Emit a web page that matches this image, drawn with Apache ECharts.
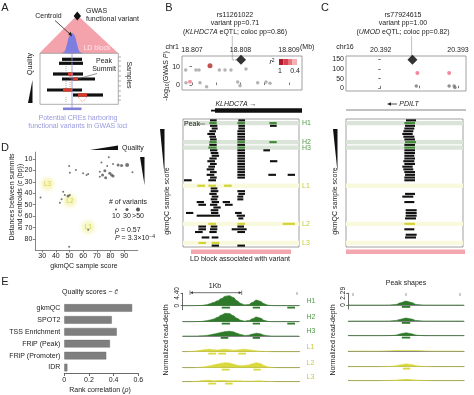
<!DOCTYPE html>
<html><head><meta charset="utf-8">
<script src="https://cdn.jsdelivr.net/npm/echarts@6/dist/echarts.min.js"></script>
<style>html,body{margin:0;padding:0;background:#fff}#c{width:474px;height:395px}</style>
</head><body><div id="c"></div>
<script>
// ================= DATA =================
// Panel B – GWAS (position in kb offset from chr1:18.807 Mb)
const bAxisKb = [0, 1, 2];
const bAxisLabels = ['18.807', '18.808', '18.809'];
const bMinorKb = [0, 0.5, 1, 1.5, 2];
const bLogPTicks = [0, 10];
const gwasBKb    = [1.01, 0.371, -0.13, 0.082, 0.144, 0.564, 0.68, 0.804, 1.113, -0.041, -0.124, 0.165, 0.302, 0.942, 0.99, 1.354, 1.526, 1.608];
const gwasBLogP  = [13.7, 10.5, 8.2, 8.2, 8.2, 8.2, 8.2, 8.2, 8.7, 1.8, 1.2, 1.2, -0.9, 1.6, -0.4, 1.2, 1.6, 1.0];
const gwasBGroup = ['lead','high','low','low','low','low','low','low','low','mid','low','low','low','low','low','low','low','low'];

// Panel C – GWAS (kb offset from chr16:20.392 Mb)
const cAxisKb = [0, 1];
const cAxisLabels = ['20.392', '20.393'];
const cMinorKb = [0, 0.5, 1];
const cLogPTicks = [0, 50, 100, 150];
const gwasCKb    = [0.41, 0.474, 0.885, 0.46, 0.885, 0.95, 0.96];
const gwasCLogP  = [147, 79, 79, 12, 12, 12, 4];
const gwasCGroup = ['lead','mid','mid','low','low','low','low'];

// Highlighted samples (row index, ordered by gkmQC score)
const hlRows  = [1, 8, 10, 24, 38, 45];
const hlNames = ['H1', 'H2', 'H3', 'L1', 'L2', 'L3'];

// Peaks per sample: [row, start kb, end kb]
const peaksB = [
 [0,0.371,0.509],[0,0.955,1.093],
 [1,0.357,0.509],[1,0.935,1.093],[1,1.594,1.746],
 [2,0.371,0.522],[2,0.955,1.093],[2,1.608,1.746],
 [3,0.405,0.529],[3,0.955,1.093],
 [4,0.357,0.495],[4,0.935,1.093],
 [5,0.316,0.474],[5,0.935,1.093],
 [6,0.357,0.495],[6,0.935,1.093],
 [7,0.371,0.509],[7,0.935,1.093],
 [8,0.357,0.509],[8,0.935,1.093],[8,1.594,1.746],
 [9,0.357,0.509],[9,0.935,1.093],
 [10,0.337,0.509],[10,0.935,1.093],
 [11,0.371,0.522],[11,0.935,1.093],[11,1.471,1.608],
 [12,0.385,0.543],[12,0.935,1.093],
 [13,0.405,0.557],[13,0.935,1.093],
 [14,0.357,0.509],[14,0.935,1.093],
 [15,0.316,0.474],[15,0.935,1.093],[15,1.608,1.759],
 [16,0.371,0.509],[16,0.935,1.093],
 [17,0.337,0.474],[17,0.935,1.093],
 [18,0.302,0.460],[18,0.935,1.093],
 [19,0.371,0.509],[19,0.935,1.093],
 [20,0.302,0.460],[20,0.935,1.093],[20,1.574,1.732],[20,1.972,2.124],
 [21,0.371,0.509],[21,0.935,1.093],
 [22,-0.165,-0.007],[22,0.337,0.495],
 [24,0.110,0.268],[24,0.337,0.495],[24,0.660,0.818],
 [25,0.385,0.522],
 [26,0.385,0.543],[26,0.935,1.093],
 [27,0.357,0.509],[27,0.955,1.093],
 [28,0.405,0.543],[28,0.935,1.058],
 [29,0.385,0.522],[29,0.935,1.058],
 [30,0.096,0.247],[30,0.405,0.557],[30,0.632,0.783],
 [31,0.131,0.289],[31,0.371,0.522],[31,0.680,0.838],
 [32,0.440,0.591],
 [33,0.385,0.543],
 [34,-0.124,0.027],[34,0.392,0.543],[34,0.887,1.024],
 [35,0.096,0.577],[35,0.921,1.093],
 [36,0.955,1.058],
 [38,0.337,0.495],[38,0.935,1.093],[38,1.869,2.124],
 [39,0.131,0.289],[39,0.385,0.522],[39,0.935,1.072],
 [40,0.131,0.289],[40,0.371,0.522],[40,0.818,1.127],
 [41,0.062,0.220],[41,0.357,0.509],[41,0.935,1.093],
 [43,0.199,0.357],[43,0.405,0.543],
 [45,0.131,0.289],[45,0.405,0.564],
 [46,0.405,0.557],[46,0.935,1.093]
];
const peaksC = [
 [0,0.333,0.462],[1,0.312,0.449],[2,0.321,0.449],[3,0.312,0.440],[4,0.299,0.427],
 [5,0.286,0.419],[6,0.299,0.440],[7,0.312,0.449],[8,0.321,0.462],[9,0.312,0.449],
 [10,0.312,0.449],[11,0.312,0.449],[12,0.312,0.449],[13,0.312,0.440],[14,0.312,0.449],
 [15,0.299,0.440],[16,0.312,0.449],[17,0.286,0.419],[18,0.299,0.427],[19,0.312,0.449],
 [20,0.321,0.449],[21,0.312,0.449],[22,0.312,0.449],
 [27,0.321,0.449],[28,0.286,0.427],[30,0.312,0.440],[33,0.329,0.470],[34,0.329,0.470],
 [35,0.329,0.470],[36,0.321,0.462],[38,0.312,0.449],[40,0.312,0.440],[42,0.329,0.470],[43,0.321,0.462]
];

// Panel D – gkmQC score vs summit–centroid distance
const dScore = [78.8,73.4,81.9,85.6,88.1,92.2,75.9,77.6,72.2,79.5,80.8,81.9,74.2,72.2,60.0,62.5,63.7,54.7,49.8,50.3,96.1,45.4,46.6,49.0,50.3,44.2,43.0,28.8,63.7,49.8,76.5];
const dDist  = [8.5,13.2,14.4,15.3,15.8,15.3,20.2,16.1,21.1,22.5,24.0,24.9,24.0,25.5,22.5,24.0,23.1,19.6,16.1,22.0,21.6,38.6,41.5,42.4,41.5,45.3,48.2,43.8,72.0,86.7,26.5];
const dNVar  = [1,1,1,2,2,3,2,1,1,2,2,2,2,1,1,1,1,1,1,1,1,1,1,2,1,1,1,1,1,1,2];
const dHlNames = ['L1', 'L2', 'L3'];
const dHlScore = [63.7, 50.3, 34.0];
const dHlDist  = [69.8, 46.5, 32.0];
const dTicksX = [30, 40, 50, 60, 70, 80, 90];
const dTicksY = [10, 20, 30, 40, 50, 60, 70, 80];
const dLegendLabels = ['10', '30', '>50'];

// Panel E – rank correlation of quality scores with c̄
const eMetrics = ['gkmQC', 'SPOT2', 'TSS Enrichment', 'FRiP (Peak)', 'FRiP (Promoter)', 'IDR'];
const eRho = [0.55, 0.385, 0.425, 0.37, 0.34, 0.025];
const eTicks = [0, 0.2, 0.4, 0.6];

// Panel E – read-depth tracks at KLHDC7A locus (kb)
const trackX  = [0,0.075,0.15,0.225,0.3,0.375,0.45,0.525,0.6,0.675,0.75,0.825,0.9,0.975,1.05,1.125,1.2,1.275,1.35,1.425,1.5,1.575,1.65,1.725,1.8,1.875,1.95,2.025,2.1,2.175,2.25];
const trackH1 = [0,0,0,0,0.05,0.1,0.3,0.7,1.2,1.8,2.6,3.4,3.6,3.0,1.8,0.8,0.3,0.4,1.2,2.0,1.6,0.7,0.2,0.05,0,0,0,0,0,0,0];
const trackH2 = [0,0,0,0,0.05,0.1,0.3,0.6,1.0,1.6,2.4,3.0,2.9,2.2,1.2,0.5,0.2,0.4,1.1,1.7,1.3,0.5,0.1,0,0,0,0,0,0,0,0];
const trackH3 = [0,0,0,0,0,0.05,0.2,0.4,0.7,1.0,1.3,1.6,1.7,1.5,1.0,0.5,0.2,0.3,0.7,1.0,0.8,0.3,0.1,0,0,0,0,0,0,0,0];
const trackL1 = [0,0,0.05,0.2,0.4,0.6,0.8,0.9,0.7,0.6,0.8,0.9,0.7,0.5,0.6,0.8,0.9,0.7,0.5,0.3,0.2,0.1,0.05,0,0,0,0,0,0,0,0];
const trackL2 = [0,0,0,0,0.1,0.2,0.4,0.7,1.0,1.3,1.6,1.8,1.7,1.3,0.9,0.7,0.8,1.0,1.4,1.8,1.5,0.8,0.3,0.1,0,0,0,0,0,0,0];
const trackL3 = [0,0,0,0.05,0.2,0.4,0.5,0.5,0.3,0.4,0.5,0.4,0.3,0.3,0.3,0.3,0.2,0.2,0.2,0.3,0.3,0.2,0.1,0.05,0,0,0,0,0,0,0];
const callsH1 = [[0.754,0.915],[1.354,1.495],[2.023,2.172]];
const callsH2 = [[0.754,0.915],[1.354,1.495],[2.023,2.172]];
const callsH3 = [[0.735,0.882],[1.354,1.495]];
const callsL1 = [[0.495,0.644],[0.689,0.838],[1.075,1.224]];
const callsL2 = [[0.754,0.909],[1.366,1.509]];
const callsL3 = [[0.495,0.644],[0.818,0.967]];
const trackMax = 4.40;

// Peak shapes (kb from summit)
const shapeX  = [-1.1,-1.0,-0.9,-0.8,-0.7,-0.6,-0.5,-0.4,-0.3,-0.2,-0.1,0,0.1,0.2,0.3,0.4,0.5,0.6,0.7,0.8,0.9,1.0,1.1];
const shapeH1 = [0,0,0,0,0,0,0,0,0.02,0.08,0.45,0.76,0.5,0.1,0.02,0,0,0,0,0,0,0,0];
const shapeH2 = [0,0,0,0,0,0,0,0,0.02,0.08,0.35,0.58,0.4,0.08,0.02,0,0,0,0,0,0,0,0];
const shapeH3 = [0,0,0,0,0,0,0,0,0.02,0.1,0.38,0.56,0.38,0.1,0.02,0,0,0,0,0,0,0,0];
const shapeL1 = [0,0,0,0,0,0,0,0.02,0.05,0.08,0.1,0.12,0.1,0.08,0.05,0.02,0,0,0,0,0,0,0];
const shapeL2 = [0,0,0,0,0,0,0,0.02,0.06,0.18,0.4,0.55,0.42,0.18,0.06,0.02,0,0,0,0,0,0,0];
const shapeL3 = [0,0,0,0,0,0,0,0.02,0.06,0.12,0.2,0.26,0.2,0.12,0.06,0.02,0,0,0,0,0,0,0];
const shapeCallsH = [[-0.08,0.08]];
const shapeCallsL2 = [[-0.06,0.08]];
const shapeMax = 2.29;

// ================= RENDER =================
const FF = '"Liberation Sans", Arial, sans-serif';
const GREEN = '#3f8a35', YELLOW = '#d2d235', GREEN_T = '#2f7a2a', YELLOW_T = '#d9d93c';
const LBL_G = '#4f9a45', LBL_Y = '#c9c93a';
const chart = echarts.init(document.getElementById('c'), null, {renderer: 'canvas'});
const grids = [], xAxes = [], yAxes = [], series = [];
function hidden(extra) {
  return Object.assign({type: 'value', axisLine: {show: false}, axisTick: {show: false}, axisLabel: {show: false}, splitLine: {show: false}}, extra || {});
}
function addGrid(g, xa, ya) {
  grids.push(Object.assign({containLabel: false, outerBoundsMode: 'none'}, g));
  const i = grids.length - 1;
  xAxes.push(Object.assign(hidden(), xa, {gridIndex: i}));
  yAxes.push(Object.assign(hidden(), ya, {gridIndex: i}));
  return i;
}
const lbl = (extra) => Object.assign({show: true, fontSize: 7, color: '#222', fontFamily: FF, margin: 2}, extra);
function pick(pos, val, grp, g) { const o = []; pos.forEach((p, i) => { if (grp[i] === g) o.push([p, val[i]]); }); return o; }
const rowClass = r => { const k = hlRows.indexOf(r); return k < 0 ? 0 : (k < 3 ? 1 : 2); };

// --- B GWAS scatter
const gB = addGrid({left: 182, top: 56, width: 120, height: 34, show: true, borderColor: '#888', borderWidth: 0.8},
  {min: -0.206, max: 2.268, position: 'top',
   axisTick: {show: true, customValues: bMinorKb, length: 2.5, lineStyle: {color: '#555', width: 0.8}},
   axisLabel: lbl({customValues: bAxisKb, formatter: v => bAxisLabels[bAxisKb.indexOf(v)]})},
  {min: -2.7, max: 15.8,
   axisTick: {show: true, customValues: bLogPTicks, length: 2.5, lineStyle: {color: '#555', width: 0.8}},
   axisLabel: lbl({customValues: bLogPTicks})});
series.push(
  {type: 'scatter', xAxisIndex: gB, yAxisIndex: gB, data: pick(gwasBKb, gwasBLogP, gwasBGroup, 'low'), symbolSize: 3.5, itemStyle: {color: '#a0a0a0'}, silent: true},
  {type: 'scatter', xAxisIndex: gB, yAxisIndex: gB, data: pick(gwasBKb, gwasBLogP, gwasBGroup, 'mid'), symbolSize: 4, itemStyle: {color: '#f07a8c'}, silent: true},
  {type: 'scatter', xAxisIndex: gB, yAxisIndex: gB, data: pick(gwasBKb, gwasBLogP, gwasBGroup, 'high'), symbolSize: 5, itemStyle: {color: '#b5261e'}, silent: true},
  {type: 'scatter', xAxisIndex: gB, yAxisIndex: gB, data: pick(gwasBKb, gwasBLogP, gwasBGroup, 'lead'), symbol: 'diamond', symbolSize: 10, itemStyle: {color: '#000'}, silent: true, z: 5}
);

// --- C GWAS scatter
const gC = addGrid({left: 346, top: 56, width: 120, height: 35, show: true, borderColor: '#888', borderWidth: 0.8},
  {min: -0.449, max: 1.103, position: 'top',
   axisTick: {show: true, customValues: cMinorKb, length: 2.5, lineStyle: {color: '#555', width: 0.8}},
   axisLabel: lbl({customValues: cAxisKb, formatter: v => cAxisLabels[cAxisKb.indexOf(v)]})},
  {min: -14, max: 167,
   axisTick: {show: true, customValues: cLogPTicks, length: 2.5, lineStyle: {color: '#555', width: 0.8}},
   axisLabel: lbl({customValues: cLogPTicks})});
series.push(
  {type: 'scatter', xAxisIndex: gC, yAxisIndex: gC, data: pick(gwasCKb, gwasCLogP, gwasCGroup, 'low'), symbolSize: 3.5, itemStyle: {color: '#777'}, silent: true},
  {type: 'scatter', xAxisIndex: gC, yAxisIndex: gC, data: pick(gwasCKb, gwasCLogP, gwasCGroup, 'mid'), symbolSize: 4, itemStyle: {color: '#f06a8a'}, silent: true},
  {type: 'scatter', xAxisIndex: gC, yAxisIndex: gC, data: pick(gwasCKb, gwasCLogP, gwasCGroup, 'lead'), symbol: 'diamond', symbolSize: 10, itemStyle: {color: '#000'}, silent: true, z: 5}
);

// --- peak panels
function peakPanel(left, width, xmin, xmax, peaks, withLabels) {
  const ya = {min: -0.5, max: 46.5, inverse: true, position: 'right'};
  if (withLabels) {
    ya.axisTick = {show: true, customValues: hlRows, length: 4, lineStyle: {color: '#b8c8a0', width: 0.8}};
    ya.axisLabel = lbl({customValues: hlRows, margin: 3,
      formatter: v => { const k = hlRows.indexOf(v); return (k < 3 ? '{g|' : '{y|') + hlNames[k] + '}'; },
      rich: {g: {color: LBL_G, fontSize: 7, fontFamily: FF}, y: {color: LBL_Y, fontSize: 7, fontFamily: FF}}});
  }
  const gi = addGrid({left: left, top: 119, width: width, height: 128, show: true, borderColor: '#888', borderWidth: 0.8},
    {min: xmin, max: xmax}, ya);
  series.push({type: 'custom', xAxisIndex: gi, yAxisIndex: gi, silent: true, z: 1,
    data: hlRows.map((r, k) => [xmin, r, k < 3 ? 1 : 2]), encode: {x: 0, y: 1},
    renderItem: (params, api) => {
      const cs = params.coordSys; const y = api.coord([xmin, api.value(1)])[1];
      return {type: 'rect', shape: {x: cs.x, y: y - 2.2, width: cs.width, height: 4.4},
        style: {fill: api.value(2) === 1 ? '#dbe4d8' : '#f9f9de'}};
    }});
  series.push({type: 'custom', xAxisIndex: gi, yAxisIndex: gi, silent: true, z: 2,
    data: peaks.map(p => [p[1], p[0], p[2], rowClass(p[0])]), encode: {x: [0, 2], y: 1},
    renderItem: (params, api) => {
      const a = api.coord([api.value(0), api.value(1)]); const b = api.coord([api.value(2), api.value(1)]);
      const c = api.value(3);
      return {type: 'rect', shape: {x: a[0], y: a[1] - 1.05, width: b[0] - a[0], height: 2.1},
        style: {fill: c === 1 ? GREEN : (c === 2 ? YELLOW : '#111')}};
    }});
  return gi;
}
peakPanel(183, 116, -0.186, 2.206, peaksB, true);
peakPanel(346, 117, -0.436, 1.064, peaksC, false);

// --- D scatter
const gD = addGrid({left: 35.3, top: 152.1, width: 102.5, height: 97.9},
  {min: 25, max: 100, position: 'bottom',
   axisLine: {show: true, onZero: false, lineStyle: {color: '#666', width: 0.8}},
   axisTick: {show: true, customValues: dTicksX, length: 2.5, lineStyle: {color: '#666', width: 0.8}},
   axisLabel: lbl({customValues: dTicksX, margin: 3})},
  {min: 4, max: 89.6, inverse: true, position: 'left',
   axisLine: {show: true, onZero: false, lineStyle: {color: '#666', width: 0.8}},
   axisTick: {show: true, customValues: dTicksY, length: 2.5, lineStyle: {color: '#666', width: 0.8}},
   axisLabel: lbl({customValues: dTicksY, margin: 3})});
series.push({type: 'scatter', xAxisIndex: gD, yAxisIndex: gD, silent: true, z: 1,
  data: dHlScore.map((s, i) => ({value: [s, dHlDist[i]], name: dHlNames[i]})),
  symbolSize: 12, itemStyle: {color: 'rgba(248,248,196,0.9)', shadowBlur: 5, shadowColor: 'rgba(240,240,170,1)'},
  label: {show: true, formatter: p => p.name, color: LBL_Y, fontSize: 6.5, fontFamily: FF, position: 'inside'}});
[1, 2, 3].forEach(k => {
  series.push({type: 'scatter', xAxisIndex: gD, yAxisIndex: gD, silent: true, z: 3,
    data: dScore.map((s, i) => [s, dDist[i], dNVar[i]]).filter(d => d[2] === k),
    symbolSize: [2, 3, 4][k - 1], itemStyle: {color: '#555'}});
});

// --- E bar chart
const gE = addGrid({left: 64.3, top: 302, width: 74, height: 71.5},
  {min: 0, max: 0.6, position: 'bottom',
   axisLine: {show: true, onZero: false, lineStyle: {color: '#444', width: 0.8}},
   axisTick: {show: true, customValues: eTicks, length: 2.5, lineStyle: {color: '#444', width: 0.8}},
   axisLabel: lbl({customValues: eTicks, margin: 3, formatter: v => v === 0 ? '0' : v.toFixed(1)})},
  {type: 'category', data: eMetrics, inverse: true, axisLabel: lbl({margin: 4})});
series.push({type: 'bar', xAxisIndex: gE, yAxisIndex: gE, data: eRho, barWidth: 7.6, silent: true,
  itemStyle: {color: '#7f7f7f', borderColor: '#666', borderWidth: 0.4}});

// --- read-depth tracks
const midBase = [305.7, 321.7, 336, 351.7, 367.7, 381.7];
const rightBase = [305, 321, 335.7, 351, 366.7, 380.7];
const midProfiles = [trackH1, trackH2, trackH3, trackL1, trackL2, trackL3];
const midCalls = [callsH1, callsH2, callsH3, callsL1, callsL2, callsL3];
const rightProfiles = [shapeH1, shapeH2, shapeH3, shapeL1, shapeL2, shapeL3];
const rightCalls = [shapeCallsH, shapeCallsH, shapeCallsH, [], shapeCallsL2, []];
function trackGrid(left, width, base, xmin, xmax, ymax, pxTop, showAxis, label) {
  const yPer = ymax / pxTop; const ymin = -4 * yPer;
  const ya = {min: ymin, max: ymax};
  if (showAxis) {
    ya.axisLine = {show: true, onZero: false, lineStyle: {color: '#444', width: 0.8}};
    ya.axisTick = {show: true, customValues: [0, ymax], length: 2, lineStyle: {color: '#444', width: 0.8}};
    ya.axisLabel = lbl({customValues: [0, ymax], rotate: 90, fontSize: 6.5, formatter: v => v === 0 ? '0' : label});
  }
  const gi = addGrid({left: left, top: base - pxTop, width: width, height: pxTop + 4},
    {min: xmin, max: xmax, axisLine: {show: true, onZero: true, lineStyle: {color: '#666', width: 0.8}}}, ya);
  return {gi: gi, yPer: yPer};
}
function addTrack(t, xs, prof, calls, isH) {
  const col = isH ? GREEN_T : YELLOW_T;
  series.push({type: 'line', xAxisIndex: t.gi, yAxisIndex: t.gi, data: xs.map((x, j) => [x, prof[j]]),
    smooth: 0.4, smoothMonotone: 'x', symbol: 'none', silent: true, z: 2,
    lineStyle: {width: 0.6, color: col}, areaStyle: {color: col, opacity: 1, origin: 0}});
  if (calls.length) {
    const y0 = -1.0 * t.yPer, y1 = -2.8 * t.yPer;
    series.push({type: 'custom', xAxisIndex: t.gi, yAxisIndex: t.gi, silent: true, z: 3,
      data: calls.map(c => [c[0], c[1], 0]), encode: {x: [0, 1], y: 2},
      renderItem: (params, api) => {
        const a = api.coord([api.value(0), y0]); const b = api.coord([api.value(1), y1]);
        return {type: 'rect', shape: {x: a[0], y: a[1], width: b[0] - a[0], height: b[1] - a[1]}, style: {fill: col}};
      }});
  }
}
for (let i = 0; i < 6; i++) {
  const tm = trackGrid(182.7, 116.6, midBase[i], 0, 2.255, trackMax, 12.3, i === 0, trackMax.toFixed(2));
  addTrack(tm, trackX, midProfiles[i], midCalls[i], i < 3);
  const tr = trackGrid(348.3, 115.7, rightBase[i], -1.1, 1.104, shapeMax, 11.7, i === 0, shapeMax.toFixed(2));
  addTrack(tr, shapeX, rightProfiles[i], rightCalls[i], i < 3);
}

// ================= ANNOTATIONS =================
function T(x, y, text, o) {
  o = o || {};
  const al = o.align || 'center', va = o.va || 'middle';
  const st = {text: text, fill: o.color || '#222', font: (o.italic ? 'italic ' : '') + (o.size || 7) + 'px ' + FF,
    align: al, verticalAlign: va, textAlign: al, textVerticalAlign: va};
  if (o.rich) st.rich = o.rich;
  return {type: 'text', x: x, y: y, rotation: o.rot || 0, silent: true, z: 100, style: st};
}
const R = (extra) => Object.assign({fontSize: 7, fontFamily: FF, fill: '#222', color: '#222'}, extra || {});
const richBase = {n: R(), i: R({fontStyle: 'italic'}), s: R({fontSize: 5, verticalAlign: 'bottom', padding: [3, 0, 0, 0]}), u: R({fontSize: 5, padding: [0, 0, 3, 0]})};
const L = (x1, y1, x2, y2, c, w, dash) => ({type: 'line', silent: true, z: 90, shape: {x1, y1, x2, y2}, style: {stroke: c || '#444', lineWidth: w || 0.8, lineDash: dash || null}});
const P = (pts, fill, z) => ({type: 'polygon', silent: true, z: z || 90, shape: {points: pts}, style: {fill: fill}});
const Rc = (x, y, w, h, fill, z) => ({type: 'rect', silent: true, z: z || 90, shape: {x, y, width: w, height: h}, style: {fill: fill}});
const G = [];
// panel letters
G.push(T(5, 8, 'A', {size: 11}), T(169, 8, 'B', {size: 11}), T(325, 8, 'C', {size: 11}), T(5, 148, 'D', {size: 11}), T(5, 282, 'E', {size: 11}));

// ---- Panel A schematic
G.push(P([[77.3, 15], [39.3, 53.3], [118.3, 53.3]], '#f4a3ac', 50));
G.push({type: 'polygon', silent: true, z: 51, shape: {points: [[61, 53.3], [64.5, 51.5], [67, 44], [69, 36.5], [72, 33], [75, 36.5], [77, 44], [79.5, 51.5], [83, 53.3]], smooth: 0.35}, style: {fill: '#7d7ee0'}});
G.push(T(97, 48.5, 'LD block', {color: '#fde6ea'}));
G.push(P([[77.3, 11.5], [81, 16], [77.3, 20.5], [73.6, 16]], '#111', 60));
G.push(T(86, 11.5, 'GWAS', {align: 'left'}), T(86, 19.5, 'functional variant', {align: 'left'}));
G.push(T(48.5, 16, 'Centroid'));
G.push(L(55, 20.5, 70.5, 34.5, '#222', 0.8), P([[72, 36.5], [68.2, 34.2], [70.8, 31.8]], '#222'));
G.push({type: 'rect', silent: true, z: 52, shape: {x: 40, y: 53.3, width: 78.3, height: 51}, style: {fill: 'none', stroke: '#999', lineWidth: 0.8}});
G.push(L(72, 53.3, 72, 108, '#8a8ae0', 0.8));
[[62, 59.3, 20], [59, 63.3, 24], [53, 74, 30], [62, 79, 33], [47, 90, 35], [73, 95, 30]].forEach(b => G.push(Rc(b[0], b[1] - 1.6, b[2], 3.2, '#111', 70)));
[[68, 74, 5], [73, 79, 5], [63, 90, 9], [78, 95, 9]].forEach(b => G.push(Rc(b[0], b[1] - 1.6, b[2], 3.2, '#d93a2a', 71)));
G.push(L(66, 66, 66, 71, '#888', 0.7, [1, 1]), L(66, 81, 66, 88, '#888', 0.7, [1, 1]), L(66, 97, 66, 102, '#888', 0.7, [1, 1]));
G.push(L(70, 76, 70, 88, '#e06050', 0.7, [1, 1]), {type: 'polyline', silent: true, z: 90, shape: {points: [[78, 97], [82.5, 102], [87, 97]]}, style: {stroke: '#e06050', lineWidth: 0.7, lineDash: [1, 1], fill: null}});
G.push(T(104, 61.5, 'Peak'), T(104, 69.5, 'Summit'), L(97, 73.5, 79, 78.5, '#444', 0.6));
G.push(T(30, 64, 'Quality', {rot: Math.PI / 2}), P([[32.5, 80], [32.5, 103], [28, 103]], '#111'));
G.push(T(128.5, 75, 'Samples', {rot: -Math.PI / 2}));
[57, 61, 66, 71, 76, 81, 86, 91, 96, 100].forEach(y => G.push(L(118.3, y, 121, y, '#777', 0.6)));
G.push(Rc(63, 107.5, 18.5, 2.6, '#8080d8', 70));
G.push(T(78, 118, 'Potential CREs harboring', {color: '#9a9ae0'}), T(78, 126, 'functional variants in GWAS loci', {color: '#9a9ae0'}));

// ---- Panel B annotations
G.push(T(235, 15, 'rs11261022'), T(235, 23.5, 'variant pp=0.71'));
G.push(T(235, 32, '{n|(}{i|KLHDC7A}{n| eQTL; coloc pp=0.86)}', {rich: richBase}));
G.push({type: 'polyline', silent: true, z: 90, shape: {points: [[232.3, 36.5], [232.3, 60], [237, 60]]}, style: {stroke: '#555', lineWidth: 0.7, lineDash: [1, 1], fill: null}});
G.push(T(179, 47.5, 'chr1', {align: 'right'}), T(300, 47.5, '(Mb)', {align: 'left'}));
G.push(T(166.5, 76, '{n|-log}{s|10}{n|(GWAS }{i|P}{n|)}', {rot: Math.PI / 2, rich: richBase}));
G.push(T(272, 62, '{i|r}{u|2}', {rich: richBase}));
['#b2182b', '#d6454f', '#e8787e', '#f3b1b4'].forEach((c, k) => G.push(Rc(279 + k * 4.5, 59, 4.5, 6, c, 95)));
G.push(T(280, 71, '1'), T(295, 71, '0.4'));
G.push(T(236, 104, '{i|KLHDC7A}{n| \u2192}', {rich: richBase}));
G.push(Rc(211, 109.7, 5, 1.8, '#111'), Rc(215, 108.3, 87, 4.4, '#111'));
G.push(T(192, 124, 'Peak'), L(199, 124, 205, 124, '#555', 0.7));
G.push(Rc(191, 249.5, 100, 4.5, '#f4a6ae'));
G.push(T(240, 259.5, 'LD block associated with variant'));
G.push(P([[160, 129], [164.5, 129], [164.5, 175]], '#111'));
G.push(T(167.5, 201, 'gkmQC sample score', {rot: Math.PI / 2}));

// ---- Panel C annotations
G.push(T(403, 15, 'rs77924615'), T(403, 23.5, 'variant pp=1.00'));
G.push(T(403, 32, '{n|(}{i|UMOD}{n| eQTL; coloc pp=0.82)}', {rich: richBase}));
G.push(L(411.7, 36.5, 411.7, 56, '#555', 0.7, [1, 1]));
G.push(T(345, 47.5, 'chr16'));
G.push(L(390, 104, 397, 104, '#222', 0.8), P([[387, 104], [391, 102.3], [391, 105.7]], '#222'));
G.push(T(409, 104, 'PDILT', {italic: true}));
G.push(L(346, 110, 466, 110, '#666', 0.8));
G.push(Rc(346, 249.5, 119, 4.5, '#f4a6ae'));
G.push(P([[333, 129], [337.5, 129], [337.5, 172]], '#111'));
G.push(T(335.5, 201, 'gkmQC sample score', {rot: Math.PI / 2}));

// ---- Panel D annotations
G.push(T(12.5, 197, 'Distances between summits', {rot: Math.PI / 2}));
G.push(T(20.5, 197, '{n|and centroids (}{i|c\u0304}{n| (bp))}', {rot: Math.PI / 2, rich: richBase}));
G.push(T(84, 266, 'gkmQC sample score'));
G.push(P([[90, 150], [118, 145.5], [118, 150]], '#111'), T(122, 148, 'Quality', {align: 'left'}));
G.push(P([[140, 157], [144.5, 157], [144.5, 185]], '#111'));
G.push(T(128, 202, '# of variants'));
[[116, 2], [127, 3], [138, 4]].forEach((d, k) => {
  G.push({type: 'circle', silent: true, z: 90, shape: {cx: d[0], cy: 209.5, r: d[1] / 2}, style: {fill: '#555'}});
  G.push(T(d[0], 216.5, dLegendLabels[k]));
});
G.push(T(115, 230.5, '{i|\u03c1}{n| = 0.57}', {align: 'left', rich: richBase}));
G.push(T(115, 238.5, '{i|P}{n| = 3.3\u00d710}{u|\u22124}', {align: 'left', rich: richBase}));

// ---- Panel E annotations
G.push(T(90, 292, '{n|Quality scores ~ }{i|c\u0304}', {rich: richBase}));
G.push(T(100, 390, '{n|Rank correlation (}{i|\u03c1}{n|)}', {rich: richBase}));
G.push(T(215, 286, '1Kb'));
G.push(L(191.5, 292.7, 240, 292.7, '#333', 0.7), P([[190, 292.7], [193, 291.3], [193, 294.1]], '#333'), P([[241.7, 292.7], [238.7, 291.3], [238.7, 294.1]], '#333'));
G.push(L(190, 290.5, 190, 295, '#333', 0.6), L(241.7, 290.5, 241.7, 295, '#333', 0.6), L(297, 292, 297, 295, '#555', 0.6));
hlNames.forEach((n, i) => G.push(T(306.5, midBase[i] - 5, n, {align: 'left', color: i < 3 ? LBL_G : LBL_Y})));
G.push(T(166, 340, 'Normalized read-depth', {rot: Math.PI / 2}));
G.push(T(406, 283, 'Peak shapes'));
[353, 406, 460].forEach(x => G.push(L(x, 293, x, 296, '#555', 0.6)));
G.push(T(333, 340, 'Normalized read-depth', {rot: Math.PI / 2}));

chart.setOption({
  animation: false,
  textStyle: {fontFamily: FF},
  grid: grids, xAxis: xAxes, yAxis: yAxes, series: series,
  graphic: {elements: G}
});
</script></body></html>
